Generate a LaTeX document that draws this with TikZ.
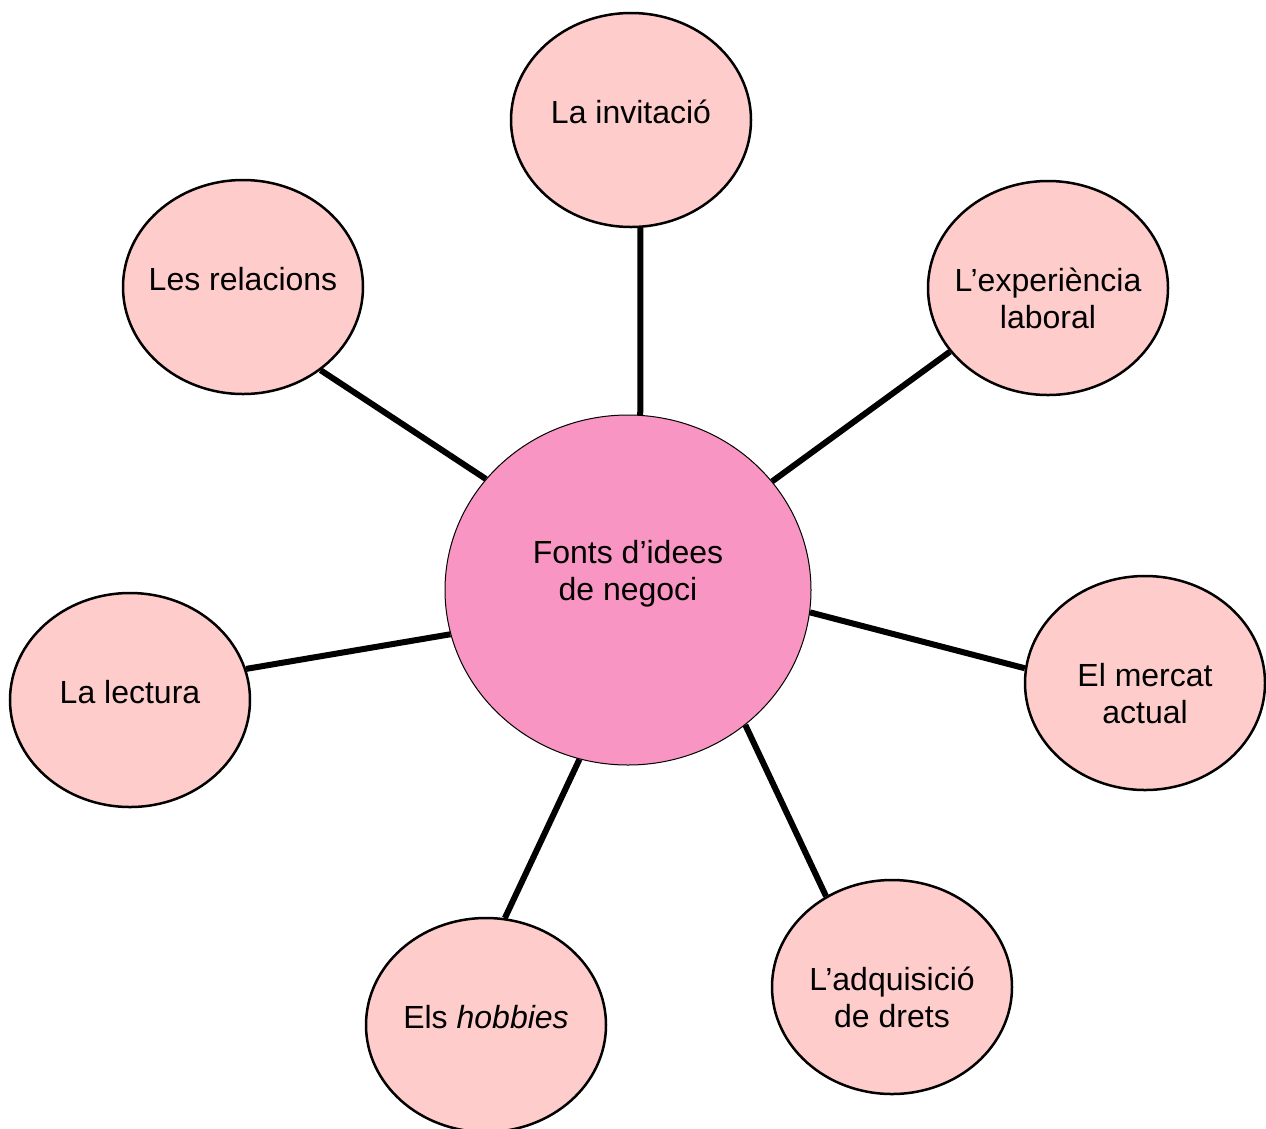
\documentclass[tikz,border=0pt]{standalone}
\usepackage{fontspec}
\setmainfont{Liberation Sans}
\usepackage{xcolor}
\usepackage{tikz}
\usetikzlibrary{shapes.geometric}

\definecolor{ideapink}{HTML}{FFCCCC}
\definecolor{hubpink}{HTML}{F995C2}

\begin{document}
\begin{tikzpicture}[x=1pt, y=-1pt,
    idea/.style={ellipse, draw=black, line width=2.5pt, fill=ideapink,
        minimum width=240pt, minimum height=214pt, inner xsep=-30pt, inner ysep=0pt,
        align=center, font=\fontsize{32}{37}\selectfont},
    oneline/.style={idea, text depth=16pt},
    twoline/.style={idea, text height=82pt},
    hub/.style={ellipse, draw=black, line width=1pt, fill=hubpink,
        minimum width=366pt, minimum height=350pt, inner sep=0pt, text depth=40pt,
        align=center, font=\fontsize{32}{37}\selectfont},
    link/.style={line width=6pt}]
    \useasboundingbox (0,0) rectangle (1266,1128);

    % Central idea
    \node[hub] (fonts) at (628,590) {Fonts d’idees\\de negoci};

    % Sources around it
    \node[oneline] (invitacio) at (631,120) {La invitació};
    \node[twoline] (experiencia) at (1048,288) {L’experiència\\laboral};
    \node[twoline] (mercat) at (1145,683) {El mercat\\actual};
    \node[twoline] (drets) at (892,987) {L’adquisició\\de drets};
    \node[oneline] (hobbies) at (486,1025) {Els \textit{hobbies}};
    \node[oneline] (lectura) at (130,700) {La lectura};
    \node[oneline] (relacions) at (243,287) {Les relacions};

    % Spokes
    \foreach \a/\n/\b in {86/invitacio/275, 37/experiencia/213, -7/mercat/173,
        -49/drets/126, 254/hobbies/80, 194/lectura/15, 142/relacions/-47} {
        \draw[link] (fonts.\a) -- (\n.\b);
    }
\end{tikzpicture}
\end{document}
